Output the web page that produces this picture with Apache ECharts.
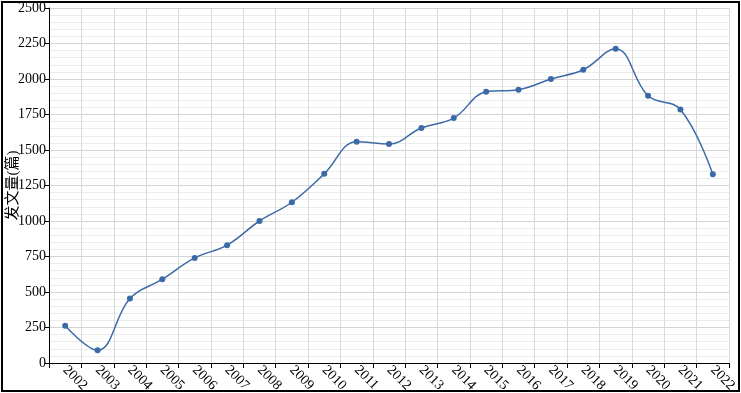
<!DOCTYPE html>
<html><head><meta charset="utf-8">
<script src="https://cdn.jsdelivr.net/npm/echarts@6/dist/echarts.min.js"></script>
<style>html,body{margin:0;padding:0;background:#fff}#c{width:741px;height:393px}</style>
</head><body><div id="c"></div>
<script>
const years = ['2002','2003','2004','2005','2006','2007','2008','2009','2010','2011','2012','2013','2014','2015','2016','2017','2018','2019','2020','2021','2022'];
const counts = [262, 90, 455, 590, 740, 830, 1000, 1132, 1332, 1558, 1542, 1655, 1725, 1910, 1925, 2000, 2065, 2213, 1882, 1785, 1330];
const yTicks = [0, 250, 500, 750, 1000, 1250, 1500, 1750, 2000, 2250, 2500];
const yName = '发文量(篇)';

const chart = echarts.init(document.getElementById('c'), null, {renderer:'canvas'});
const font = '"Liberation Serif", "Times New Roman", "Noto Sans CJK SC", serif';
chart.setOption({
  animation: false,
  backgroundColor: '#fff',
  textStyle: {fontFamily: font},
  graphic: [{type:'rect', shape:{x:2, y:2, width:737, height:389}, style:{fill:'none', stroke:'#000', lineWidth:2}, silent:true}],
  grid: {left: 49, right: 12, top: 8, bottom: 30, containLabel: false, outerBoundsMode: 'none'},
  xAxis: {
    type: 'category', data: years, boundaryGap: true,
    axisLine: {lineStyle: {color: '#000'}},
    axisTick: {show: true, alignWithLabel: false, interval: 0, lineStyle:{color:'#000'}},
    axisLabel: {rotate: -45, interval: 0, color: '#000', fontSize: 14, fontFamily: font, margin: 5},
    splitLine: {show: true, interval: 0, lineStyle: {color: '#d9d9d9'}}
  },
  yAxis: {
    type: 'value', min: yTicks[0], max: yTicks[yTicks.length-1], interval: 250,
    name: yName, nameLocation: 'middle', nameGap: 28, nameRotate: 90, nameMoveOverlap: false,
    nameTextStyle: {color: '#000', fontSize: 15, fontFamily: font},
    axisLine: {show: true, lineStyle: {color: '#000'}},
    axisTick: {show: true, length: 4, lineStyle:{color:'#000'}},
    axisLabel: {color: '#000', fontSize: 14, fontFamily: font, margin: 3, formatter: v => String(v)},
    splitLine: {show: true, lineStyle: {color: '#d4d4d4'}},
    minorTick: {show: false, splitNumber: 5},
    minorSplitLine: {show: true, lineStyle: {color: '#ececec'}}
  },
  series: [{
    type: 'line', data: counts, smooth: 0.4,
    symbol: 'circle', symbolSize: 6,
    itemStyle: {color: '#3c6aa7'},
    lineStyle: {color: '#3c6aa7', width: 1.5}
  }]
});
</script></body></html>
